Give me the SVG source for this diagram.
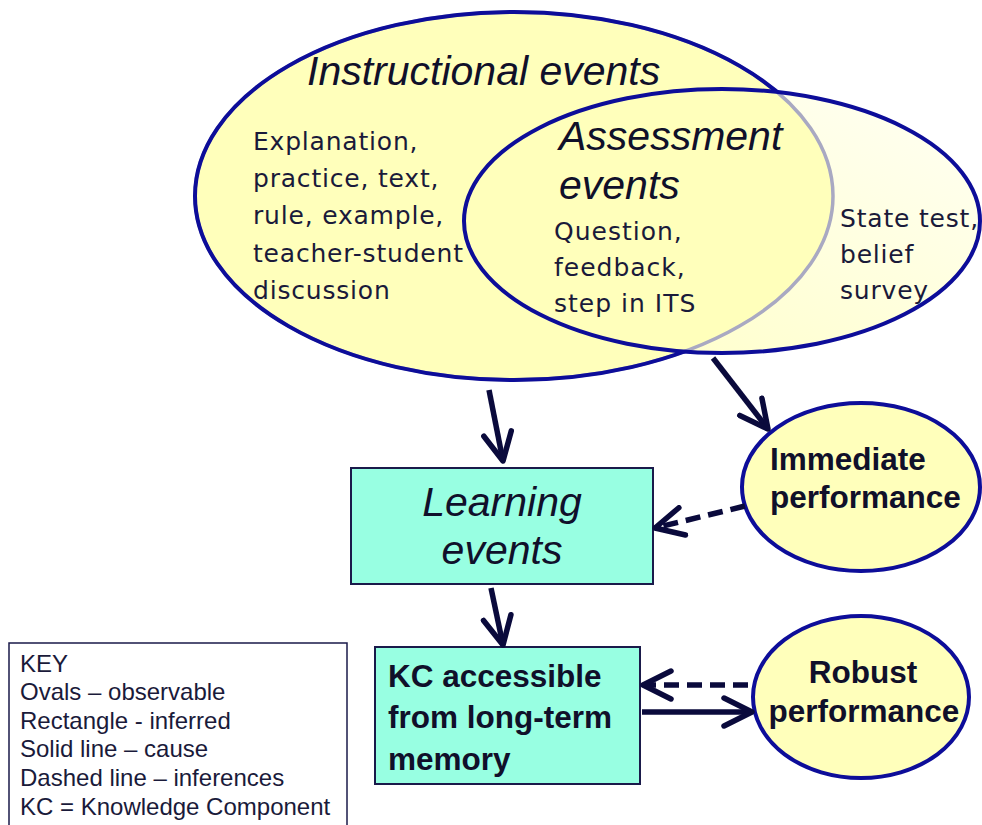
<svg xmlns="http://www.w3.org/2000/svg" width="982" height="825" viewBox="0 0 982 825">
<defs>
<style>
.oval{fill:#FFFFBB;stroke:#0D0D99;stroke-width:4}
.box{fill:#98FFE2;stroke:#1A1A4A;stroke-width:2}
.title{font-family:"Liberation Sans",Arial,sans-serif;font-style:italic;font-size:41px;fill:#10102A}
.body{font-family:"DejaVu Sans",Verdana,sans-serif;font-size:25px;fill:#1A1A3A;letter-spacing:0.8px}
.bold{font-family:"Liberation Sans",Arial,sans-serif;font-weight:bold;font-size:31.5px;fill:#10102A}
.key{font-family:"Liberation Sans",Arial,sans-serif;font-size:24px;fill:#1A1A3A}
.cause{fill:none;stroke:#0A0A3C;stroke-width:5.5}
.infer{fill:none;stroke:#0A0A3C;stroke-width:5.5;stroke-dasharray:15 8}
</style>
<marker id="head" viewBox="0 0 34 34" refX="31" refY="17" markerWidth="34" markerHeight="34" markerUnits="userSpaceOnUse" orient="auto">
<path d="M3,3 L31,17 L3,31" fill="none" stroke="#0A0A3C" stroke-width="5.5" stroke-linecap="round" stroke-linejoin="round"/>
</marker>
<linearGradient id="assessGrad" x1="1" y1="0" x2="0" y2="1">
<stop offset="0" stop-color="#FFFFF4"/>
<stop offset="1" stop-color="#FFFFC4"/>
</linearGradient>
<mask id="outsideAssess">
<rect x="0" y="0" width="982" height="825" fill="#fff"/>
<ellipse cx="722" cy="221" rx="258" ry="132" fill="#000"/>
</mask>
</defs>
<rect x="0" y="0" width="982" height="825" fill="#fff"/>

<g id="assessment-events-fill">
<ellipse cx="722" cy="221" rx="258" ry="132" fill="url(#assessGrad)"/>
</g>
<g id="instructional-events">
<ellipse cx="514" cy="196" rx="319" ry="184" fill="#FFFFBB" stroke="#A9A9C2" stroke-width="3.5"/>
<ellipse cx="514" cy="196" rx="319" ry="184" fill="none" stroke="#0D0D99" stroke-width="4" mask="url(#outsideAssess)"/>
<text class="title" x="307" y="85">Instructional events</text>
<text class="body" x="253" y="150">Explanation,</text>
<text class="body" x="253" y="187">practice, text,</text>
<text class="body" x="253" y="224">rule, example,</text>
<text class="body" x="253" y="262">teacher-student</text>
<text class="body" x="253" y="299">discussion</text>
</g>
<g id="assessment-events">
<ellipse cx="722" cy="221" rx="258" ry="132" fill="none" stroke="#0D0D99" stroke-width="4"/>
<text class="title" x="559" y="150">Assessment</text>
<text class="title" x="559" y="199">events</text>
<text class="body" x="554" y="240" style="letter-spacing:1px">Question,</text>
<text class="body" x="554" y="276" style="letter-spacing:1px">feedback,</text>
<text class="body" x="554" y="312" style="letter-spacing:1px">step in ITS</text>
<text class="body" x="840" y="227">State test,</text>
<text class="body" x="840" y="263">belief</text>
<text class="body" x="840" y="299">survey</text>
</g>

<g id="learning-events">
<rect class="box" x="351" y="468" width="302" height="116"/>
<text class="title" x="502" y="516" text-anchor="middle">Learning</text>
<text class="title" x="502" y="564" text-anchor="middle">events</text>
</g>
<g id="immediate-performance">
<ellipse class="oval" cx="861" cy="487" rx="119" ry="84"/>
<text class="bold" x="770" y="470">Immediate</text>
<text class="bold" x="770" y="508">performance</text>
</g>
<g id="kc-memory">
<rect class="box" x="375" y="647" width="265" height="137"/>
<text class="bold" x="388" y="687">KC accessible</text>
<text class="bold" x="388" y="728">from long-term</text>
<text class="bold" x="388" y="770">memory</text>
</g>
<g id="robust-performance">
<ellipse class="oval" cx="861" cy="697" rx="108" ry="81"/>
<text class="bold" x="863" y="683" text-anchor="middle">Robust</text>
<text class="bold" x="864" y="722" text-anchor="middle">performance</text>
</g>
<g id="key">
<rect x="9" y="643" width="338" height="190" fill="#fff" stroke="#1A1A4A" stroke-width="1.5"/>
<text class="key" x="20" y="672">KEY</text>
<text class="key" x="20" y="700">Ovals – observable</text>
<text class="key" x="20" y="729">Rectangle - inferred</text>
<text class="key" x="20" y="757">Solid line – cause</text>
<text class="key" x="20" y="786">Dashed line – inferences</text>
<text class="key" x="20" y="815">KC = Knowledge Component</text>
</g>

<g id="connectors">
<line class="cause" x1="489" y1="390" x2="503" y2="461" marker-end="url(#head)"/>
<line class="cause" x1="713" y1="358" x2="768" y2="429" marker-end="url(#head)"/>
<line class="infer" x1="745" y1="506" x2="655" y2="528" marker-end="url(#head)"/>
<line class="cause" x1="491" y1="588" x2="503" y2="645" marker-end="url(#head)"/>
<line class="infer" x1="748" y1="685" x2="643" y2="685" marker-end="url(#head)"/>
<line class="cause" x1="642" y1="712" x2="752" y2="712" marker-end="url(#head)"/>
</g>
</svg>
